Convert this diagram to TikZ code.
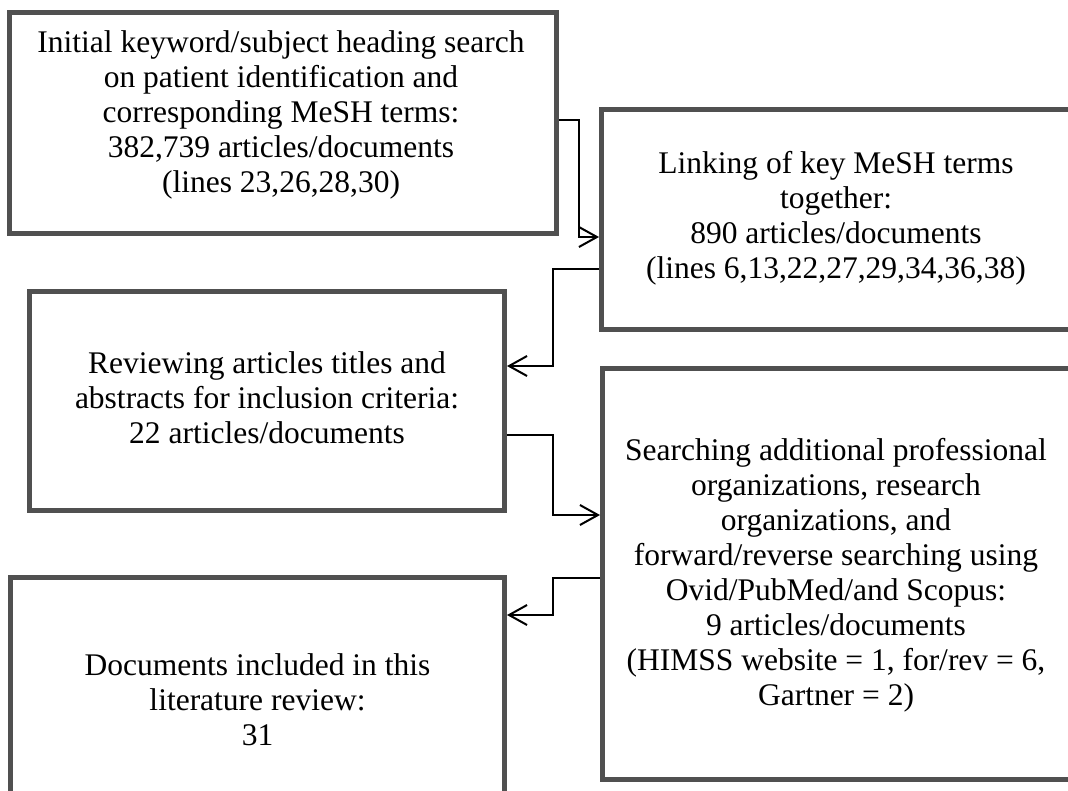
\documentclass[tikz,border=0pt]{standalone}
\usepackage{fontspec}
\setmainfont{Liberation Serif}
\usetikzlibrary{arrows.meta}
\definecolor{bordergray}{RGB}{80,80,80}
\tikzset{
  box/.style={draw=bordergray, line width=5pt, rectangle, inner sep=0pt, fill=none},
  txt/.style={align=center, inner sep=0pt, font=\fontsize{31.5}{35}\selectfont},
  conn/.style={draw=black, line width=2pt, -{Straight Barb[length=18pt,width=20pt,line width=2pt]}}
}
\begin{document}
\begin{tikzpicture}[x=1pt,y=-1pt]
\useasboundingbox (0,0) rectangle (1068,790);
\clip (0,0) rectangle (1068,790);
\fill[white] (0,0) rectangle (1068,790);
% boxes
\node[box, minimum width=547pt, minimum height=221pt] (b1) at (283,123) {};
\node[box, minimum width=469.5pt, minimum height=220pt] (b2) at (836.25,219.5) {};
\node[box, minimum width=475pt, minimum height=219pt] (b3) at (267,401) {};
\node[box, minimum width=468.5pt, minimum height=411pt] (b4) at (836.75,574) {};
\node[box, minimum width=494pt, minimum height=242.5pt] (b5) at (257.5,698.75) {};
% texts
\node[txt] (t1) at (281,115) {Initial keyword/subject heading search\\on patient identification and\\corresponding MeSH terms:\\382,739 articles/documents\\(lines 23,26,28,30)};
\node[txt] (t2) at (836,218.5) {Linking of key MeSH terms\\together:\\890 articles/documents\\(lines 6,13,22,27,29,34,36,38)};
\node[txt] (t3) at (267,398) {Reviewing articles titles and\\abstracts for inclusion criteria:\\22 articles/documents};
\node[txt] (t4) at (836,575.5) {Searching additional professional\\organizations, research\\organizations, and\\forward/reverse searching using\\Ovid/PubMed/and Scopus:\\9 articles/documents\\(HIMSS website = 1, for/rev = 6,\\Gartner = 2)};
\node[txt] (t5) at (257.5,700) {Documents included in this\\literature review:\\31};
% bend points
\coordinate (c1a) at (579,119.5);
\coordinate (c1b) at (579,237);
\coordinate (c2a) at (553,269);
\coordinate (c2b) at (553,366);
\coordinate (c3a) at (553,435);
\coordinate (c3b) at (553,515);
\coordinate (c4a) at (553,578);
\coordinate (c4b) at (553,615);
% connectors
\draw[conn] (b1.east |- c1a) -- (c1a) -- (c1b) -- (b2.west |- c1b);
\draw[conn] (b2.west |- c2a) -- (c2a) -- (c2b) -- (b3.east |- c2b);
\draw[conn] (b3.east |- c3a) -- (c3a) -- (c3b) -- (b4.west |- c3b);
\draw[conn] (b4.west |- c4a) -- (c4a) -- (c4b) -- (b5.east |- c4b);
\end{tikzpicture}
\end{document}
